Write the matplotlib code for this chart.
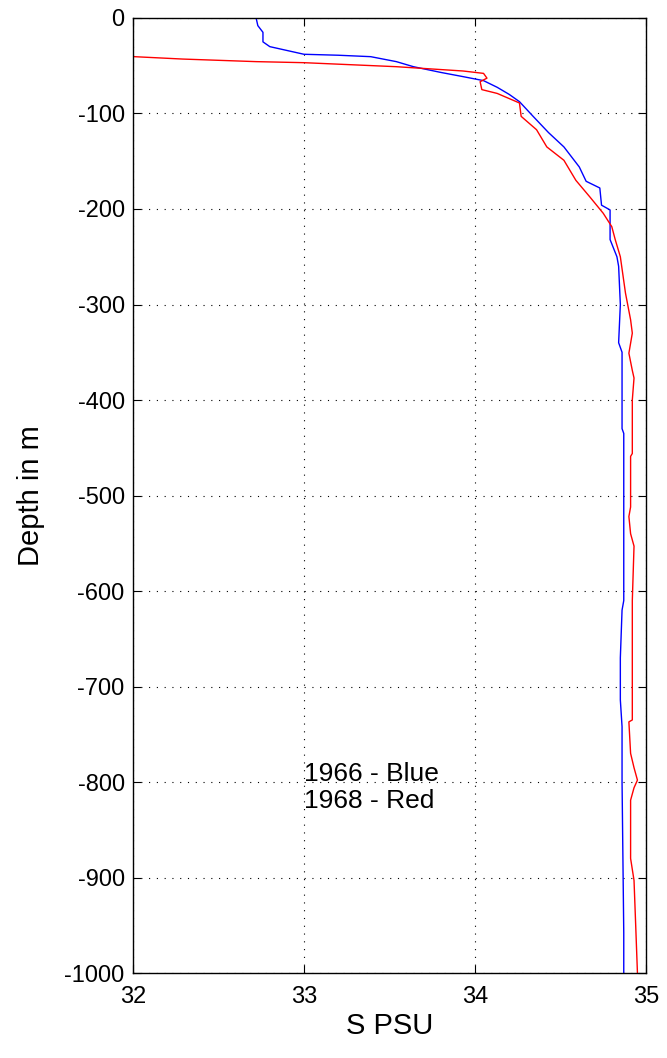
import matplotlib
matplotlib.use("Agg")
import matplotlib.pyplot as plt

plt.rcParams['font.family'] = ['Liberation Sans', 'DejaVu Sans']
plt.rcParams['axes.unicode_minus'] = False

# 1966 (blue)
s_1966 = [32.72, 32.73, 32.76, 32.76, 32.80, 32.90, 33.00, 33.20, 33.39, 33.54, 33.64, 33.80,
          33.93, 34.05, 34.13, 34.20, 34.26, 34.34, 34.43, 34.52, 34.61, 34.65, 34.73, 34.74,
          34.79, 34.79, 34.83, 34.84, 34.85, 34.84, 34.86, 34.86, 34.87, 34.87, 34.86, 34.85,
          34.85, 34.86, 34.86, 34.87, 34.87]
d_1966 = [0, -8, -15, -25, -30, -34, -38, -39, -40.5, -45.7, -51, -57,
          -61.4, -65.6, -72.6, -80, -87.6, -103, -120, -135, -156, -171, -178, -196,
          -201, -232, -250, -260, -300, -340, -350, -430, -435, -610, -620, -670,
          -714, -742, -800, -958, -1000]

# 1968 (red)
s_1968 = [31.95, 32.29, 32.72, 33.00, 33.54, 33.93, 34.05, 34.07, 34.03, 34.04, 34.13, 34.26,
          34.27, 34.36, 34.42, 34.52, 34.59, 34.67, 34.75, 34.80, 34.82, 34.85, 34.88, 34.91,
          34.92, 34.90, 34.92, 34.93, 34.92, 34.92, 34.91, 34.91, 34.90, 34.91, 34.93, 34.92,
          34.92, 34.90, 34.91, 34.93, 34.95, 34.93, 34.91, 34.91, 34.93, 34.94, 34.95]
d_1968 = [-40, -43, -45.7, -46.8, -51, -55.5, -58, -63, -66.7, -75, -79, -89,
          -103, -117, -135, -149, -170, -187, -204.5, -218.5, -232, -250, -288, -316,
          -330, -351, -369, -377, -400, -456, -459, -512, -522, -540, -553, -610,
          -735, -737, -770, -785, -798, -806, -819, -880, -903, -951, -1000]

x_ticks = [32, 33, 34, 35]
y_ticks = [0, -100, -200, -300, -400, -500, -600, -700, -800, -900, -1000]

fig = plt.figure(figsize=(6.67, 10.58), dpi=100)
ax = fig.add_axes([0.1994, 0.0803, 0.7691, 0.9027])
ax.plot(s_1966, d_1966, color='#0000ff', lw=1.0)
ax.plot(s_1968, d_1968, color='#ff0000', lw=1.0)
ax.set_xlim(32, 35)
ax.set_ylim(-1000, 0)
ax.set_xticks(x_ticks)
ax.set_yticks(y_ticks)
ax.grid(True, linestyle=(0, (1, 6)), color='black', lw=0.8)
ax.tick_params(direction='in', top=True, right=True, labelsize=17, length=6)
ax.tick_params(axis='x', pad=9)
ax.tick_params(axis='y', pad=6)
ax.set_xlabel('S PSU', fontsize=21, labelpad=3)
ax.set_ylabel('Depth in m', fontsize=21, labelpad=14)
ax.text(33.0, -792, '1966 - Blue', fontsize=19, va='center', ha='left')
ax.text(33.0, -820, '1968 - Red', fontsize=19, va='center', ha='left')
for sp in ax.spines.values():
    sp.set_linewidth(1.0)
fig.savefig('out.png', dpi=100)
